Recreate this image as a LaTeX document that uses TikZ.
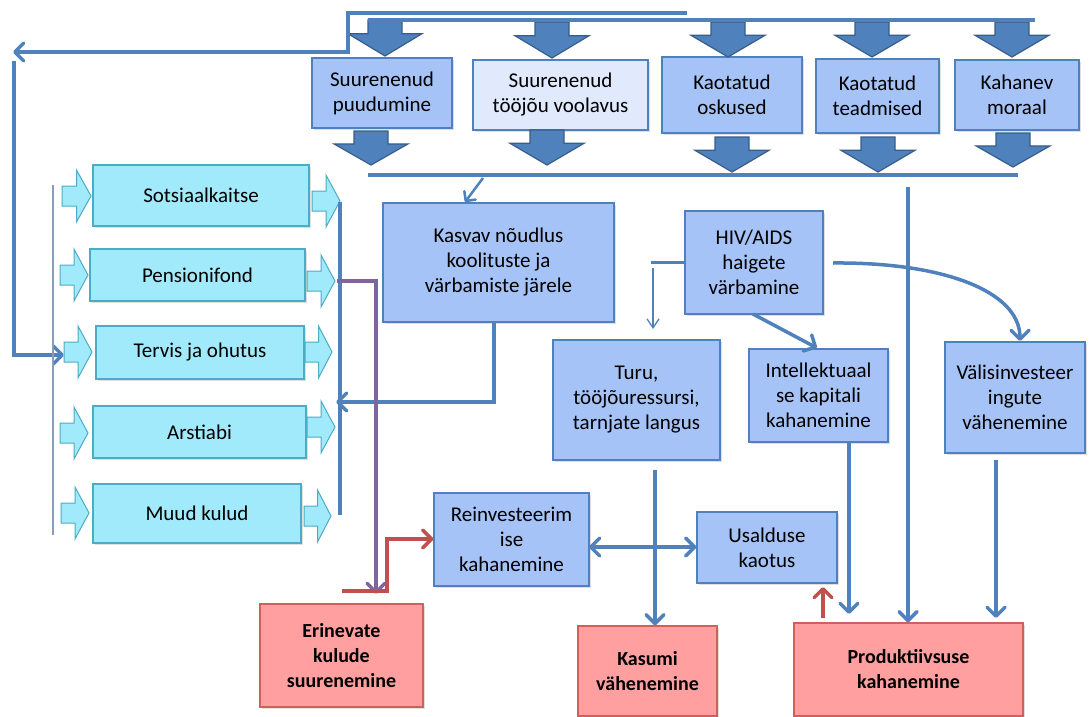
\documentclass[tikz,border=0pt]{standalone}
\usepackage{fontspec}
\setmainfont{Carlito}
\usetikzlibrary{arrows.meta,shadows}
\definecolor{lineblue}{HTML}{4F81BD}
\definecolor{blockdark}{HTML}{385D8A}
\definecolor{boxfill}{HTML}{A5C3F7}
\definecolor{boxfilltwo}{HTML}{E0EAFC}
\definecolor{cyanfill}{HTML}{A1EAFB}
\definecolor{cyandraw}{HTML}{4BACC6}
\definecolor{pinkfill}{HTML}{FF9F9F}
\definecolor{pinkdraw}{HTML}{D0605D}
\definecolor{purpleline}{HTML}{8064A2}
\definecolor{redline}{HTML}{C0504D}
\definecolor{grayline}{HTML}{8A9DB8}
\newcommand{\dn}[1]{\raisebox{-3pt}{#1}}
\newcommand{\bdown}[3]{%
  \filldraw[blockarrow] ({#1-17},#2) -- ({#1+17},#2) -- ({#1+17},{#2+0.38*(#3-#2)}) -- ({#1+37},{#2+0.38*(#3-#2)}) -- (#1,#3) -- ({#1-37},{#2+0.38*(#3-#2)}) -- ({#1-17},{#2+0.38*(#3-#2)}) -- cycle;}
\newcommand{\cright}[3]{%
  \filldraw[cyanarrow] (#1,{#3-10}) -- ({(#1+#2)/2},{#3-10}) -- ({(#1+#2)/2},{#3-26}) -- (#2,#3) -- ({(#1+#2)/2},{#3+26}) -- ({(#1+#2)/2},{#3+10}) -- (#1,{#3+10}) -- cycle;}
\begin{document}
\begin{tikzpicture}[x=1pt,y=-1pt,
  blockarrow/.style={fill=lineblue,draw=blockdark,line width=1.2pt,line join=miter},
  cyanarrow/.style={fill=cyanfill,draw=cyandraw,line width=1pt},
  basebox/.style={align=center,inner sep=2pt,font=\fontsize{21}{25}\selectfont,line width=1.2pt,
     drop shadow={shadow xshift=2pt,shadow yshift=-2pt,opacity=0.25}},
  bluebox/.style={basebox,draw=lineblue,fill=boxfill},
  paleblue/.style={basebox,draw=lineblue,fill=boxfilltwo},
  cyanbox/.style={basebox,draw=cyandraw,fill=cyanfill},
  pinkbox/.style={basebox,draw=pinkdraw,fill=pinkfill,font=\fontsize{20}{25}\selectfont\bfseries},
  conn/.style={draw=lineblue,line width=3.5pt,line join=miter},
  tip/.style={-{Straight Barb[length=9pt,width=18pt,round]}},
  arr/.style={conn,tip},
  dbl/.style={conn,{Straight Barb[length=9pt,width=18pt,round]}-{Straight Barb[length=9pt,width=18pt,round]}},
  thinarr/.style={draw=lineblue,line width=1.3pt,-{Straight Barb[length=9pt,width=12pt]}},
]
\useasboundingbox[fill=white] (0,0) rectangle (1089,717);

% top row boxes
\node[bluebox,minimum width=140pt,minimum height=70pt] (b1) at (382,93) {\dn{Suurenenud}\\\dn{puudumine}};
\node[paleblue,minimum width=175pt,minimum height=70pt] (b2) at (560.5,95) {\dn{Suurenenud}\\\dn{tööjõu voolavus}};
\node[bluebox,minimum width=140pt,minimum height=76pt] (b3) at (732,95) {\dn{Kaotatud}\\\dn{oskused}};
\node[bluebox,minimum width=123pt,minimum height=74pt] (b4) at (877.5,96) {\dn{Kaotatud}\\\dn{teadmised}};
\node[bluebox,minimum width=124pt,minimum height=70pt] (b5) at (1017,95) {\dn{Kahanev}\\\dn{moraal}};

% block arrows
\bdown{385}{20}{56}
\bdown{552}{22}{58}
\bdown{728}{22}{57}
\bdown{872}{22}{57}
\bdown{1012}{22}{57}
\bdown{371}{131}{165}
\bdown{547}{130}{165}
\bdown{732}{137}{172}
\bdown{878}{137}{172}
\bdown{1013}{133}{167}

% bars
\coordinate (tb1) at (368,20); \coordinate (tb2) at (1035,20);
\draw[conn] (tb1) -- (tb2);
\coordinate (bb1) at (368,175); \coordinate (bb2) at (1018,175);
\draw[conn] (bb1) -- (bb2);

% outer feedback loop
\coordinate (o1) at (687,13); \coordinate (o2) at (348,13); \coordinate (o3) at (348,52); \coordinate (o4) at (13,52);
\draw[arr] (o1) -- (o2) -- (o3) -- (o4);
\coordinate (l1) at (14,61); \coordinate (l2) at (14,355); \coordinate (l3) at (64,355);
\draw[arr] (l1) -- (l2) -- (l3);

% left column
\node[cyanbox,minimum width=216pt,minimum height=61pt] (c1) at (201,195.5) {Sotsiaalkaitse};
\node[cyanbox,minimum width=215pt,minimum height=52pt] (c2) at (197.5,275) {Pensionifond};
\node[cyanbox,minimum width=208pt,minimum height=53pt] (c3) at (200,352.5) {Tervis ja ohutus};
\node[cyanbox,minimum width=213pt,minimum height=52pt] (c4) at (199.5,432) {Arstiabi};
\node[cyanbox,minimum width=208pt,minimum height=59pt] (c5) at (197,513.5) {Muud kulud};
\cright{62}{91}{196}
\cright{60}{88}{275}
\cright{64}{92}{352}
\cright{60}{88}{433}
\cright{61}{89}{513}
\cright{312}{340}{201}
\cright{307}{335}{281}
\cright{305}{332}{352}
\cright{307}{335}{427}
\cright{304}{331}{516}
\coordinate (g1) at (53,185); \coordinate (g2) at (53,535);
\draw[grayline,line width=1.5pt] (g1) -- (g2);
\coordinate (v1) at (340,202); \coordinate (v2) at (340,515);
\draw[conn] (v1) -- (v2);

% middle boxes
\node[bluebox,minimum width=231pt,minimum height=119pt] (kas) at (498.5,262.5) {Kasvav nõudlus\\koolituste ja\\värbamiste järele};
\node[bluebox,minimum width=138pt,minimum height=103pt] (hiv) at (754,262.5) {HIV/AIDS\\haigete\\värbamine};
\node[bluebox,minimum width=167pt,minimum height=120pt] (turu) at (636.5,400) {Turu,\\tööjõuressursi,\\tarnjate langus};
\node[bluebox,minimum width=139pt,minimum height=93pt] (int) at (818.5,395.5) {Intellektuaal\\se kapitali\\kahanemine};
\node[bluebox,minimum width=140pt,minimum height=111pt] (val) at (1015,397.5) {Välisinvesteer\\ingute\\vähenemine};
\node[bluebox,minimum width=155pt,minimum height=93pt] (rei) at (511.5,539.5) {Reinvesteerim\\ise\\kahanemine};
\node[bluebox,minimum width=140pt,minimum height=71pt] (usa) at (767,547.5) {Usalduse\\kaotus};

% bottom boxes
\node[pinkbox,minimum width=163pt,minimum height=103pt] (eri) at (341.5,655.5) {Erinevate\\kulude\\suurenemine};
\node[pinkbox,minimum width=139pt,minimum height=90pt] (kasu) at (647.5,671) {Kasumi\\vähenemine};
\node[pinkbox,minimum width=229pt,minimum height=93pt] (prod) at (908.5,669.5) {Produktiivsuse\\kahanemine};

% connectors
\coordinate (k0) at (483,178);
\draw[draw=lineblue,line width=2.5pt,-{Straight Barb[length=7pt,width=14pt,round]}] (k0) -- (465,202);
\coordinate (m0) at (908,187);
\draw[arr] (m0) -- (prod.north -| m0);
\coordinate (k1) at (494,402);
\draw[arr] (kas.south -| k1) -- (k1) -- (336,402);
\coordinate (p0) at (337,281); \coordinate (p1) at (376,281); \coordinate (p2) at (376,594);
\draw[draw=purpleline,line width=3.5pt,line join=miter,tip] (p0) -- (p1) -- (p2);
\coordinate (r0) at (342,591); \coordinate (r1) at (387,591); \coordinate (r2) at (387,539);
\draw[draw=redline,line width=3.5pt,line join=miter,tip] (r0) -- (r1) -- (r2) -- (rei.west |- r2);
\coordinate (r3) at (823,618);
\draw[draw=redline,line width=3.5pt,tip] (r3) -- (823,587);
\coordinate (d0) at (589,547);
\draw[dbl] (d0) -- (usa.west |- d0);
\coordinate (t0) at (655,470);
\draw[arr] (t0) -- (kasu.north -| t0);
\coordinate (i0) at (849,442);
\draw[arr] (i0) -- (849,614);
\coordinate (w0) at (996,460);
\draw[arr] (w0) -- (996,618);
\coordinate (h0) at (753,314);
\draw[arr] (h0) -- (817,348);
\coordinate (h1) at (833,263);
\draw[arr] (h1) .. controls (940,262) and (1020,290) .. (1020,341);
\coordinate (h2) at (651,262);
\draw[conn,line width=3pt] (hiv.west |- h2) -- (h2);
\coordinate (h3) at (653,268);
\draw[thinarr] (h3) -- (653,329);
\end{tikzpicture}
\end{document}
